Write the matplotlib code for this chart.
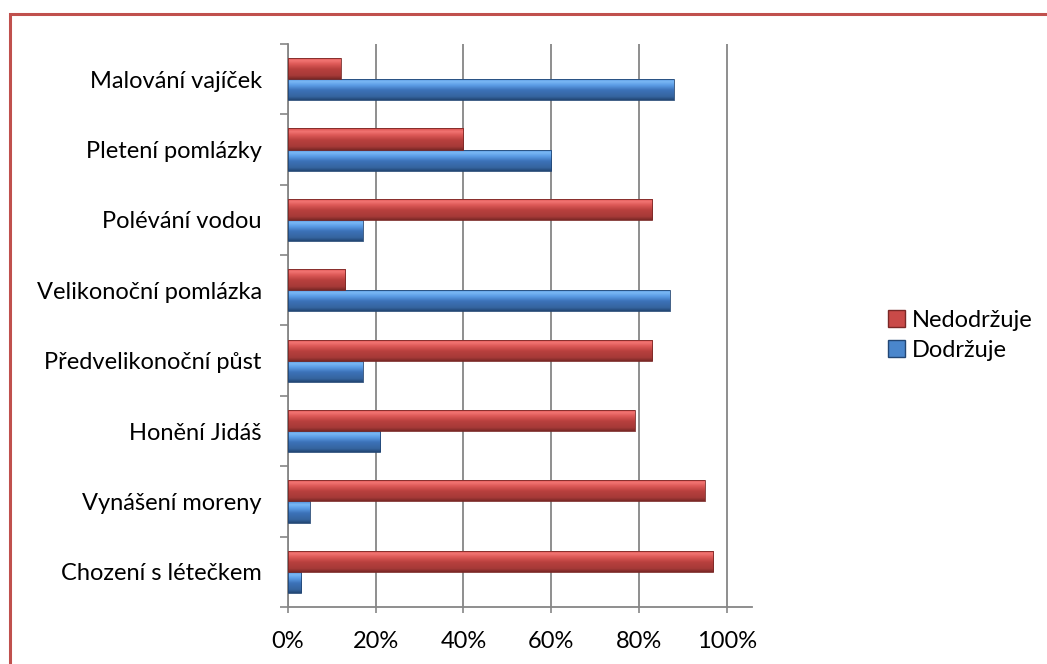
import matplotlib.pyplot as plt
import numpy as np
from matplotlib.patches import Rectangle
from matplotlib.colors import LinearSegmentedColormap

plt.rcParams['font.family'] = ['Lato', 'DejaVu Sans']

kategorie = ['Chození s létečkem', 'Vynášení moreny', 'Honění Jidáš',
             'Předvelikonoční půst', 'Velikonoční pomlázka', 'Polévání vodou',
             'Pletení pomlázky', 'Malování vajíček']
dodrzuje = [0.03, 0.05, 0.21, 0.17, 0.87, 0.17, 0.60, 0.88]
nedodrzuje = [0.97, 0.95, 0.79, 0.83, 0.13, 0.83, 0.40, 0.12]
xticky = [0, 0.2, 0.4, 0.6, 0.8, 1.0]
xpopisky = ['0%', '20%', '40%', '60%', '80%', '100%']

# prechod barev shora dolu (efekt "bevel" z Excelu)
cerveny = LinearSegmentedColormap.from_list('cerv', [
    (0.0, '#d64c4a'), (0.15, '#f27472'), (0.32, '#dc5856'),
    (0.55, '#b8403e'), (0.85, '#a53a38'), (1.0, '#7a2826')])
modry = LinearSegmentedColormap.from_list('modr', [
    (0.0, '#4a8ad6'), (0.15, '#7ab8f4'), (0.32, '#5c9de6'),
    (0.55, '#3c72b8'), (0.85, '#35649f'), (1.0, '#224674')])

fig = plt.figure(figsize=(10.47, 6.64), dpi=100)
ax = fig.add_axes([0.2751, 0.0858, 0.4432, 0.848])

y = np.arange(len(kategorie))
h = 0.3

def kresli(hodnoty, posun, cmap):
    bary = ax.barh(y + posun, hodnoty, height=h, color='none', edgecolor='none', zorder=3)
    grad = np.linspace(0, 1, 64).reshape(-1, 1)
    for b in bary:
        x0, y0 = b.get_x(), b.get_y()
        w, hh = b.get_width(), b.get_height()
        im = ax.imshow(grad, cmap=cmap, aspect='auto', zorder=3,
                       extent=[x0, x0 + w, y0, y0 + hh], origin='upper')
        im.set_clip_path(b)
        ax.add_patch(Rectangle((x0, y0), w, hh, fill=False, lw=0.6,
                               edgecolor=cmap(1.0), zorder=4))

kresli(dodrzuje, -h / 2, modry)
kresli(nedodrzuje, h / 2, cerveny)

ax.set_xlim(0, 1.058)
ax.set_ylim(-0.5, len(kategorie) - 0.5)

ax.set_xticks(xticky)
ax.set_xticklabels(xpopisky, fontsize=17)
ax.tick_params(axis='x', length=4.5, width=1.2, color='#868686', pad=13)

ax.set_yticks(np.arange(-0.5, len(kategorie), 1.0))
ax.set_yticklabels([])
ax.set_yticks(y, minor=True)
ax.set_yticklabels(kategorie, minor=True, fontsize=17)
ax.tick_params(axis='y', which='major', length=6, width=1.2, color='#868686')
ax.tick_params(axis='y', which='minor', length=0, pad=19)

ax.grid(axis='x', color='#868686', lw=1.3, zorder=0)
ax.set_axisbelow(True)
for s in ['top', 'right']:
    ax.spines[s].set_visible(False)
for s in ['left', 'bottom']:
    ax.spines[s].set_color('#868686')
    ax.spines[s].set_linewidth(1.3)

handles = [Rectangle((0, 0), 1, 1, facecolor='#c94a48', edgecolor='#7a2826'),
           Rectangle((0, 0), 1, 1, facecolor='#4a86cc', edgecolor='#224674')]
fig.legend(handles, ['Nedodržuje', 'Dodržuje'], loc='center left',
           bbox_to_anchor=(0.828, 0.495), frameon=False, fontsize=17,
           handlelength=0.7, handleheight=0.7, handletextpad=0.3,
           labelspacing=0.38)

# ramecek grafu
fig.patches.append(Rectangle((10 / 1047, -0.1), 1.2, 0.1 + (664 - 14) / 664,
                             transform=fig.transFigure, fill=False,
                             edgecolor='#c0504d', lw=2.2))

fig.savefig('out.png', dpi=100)
